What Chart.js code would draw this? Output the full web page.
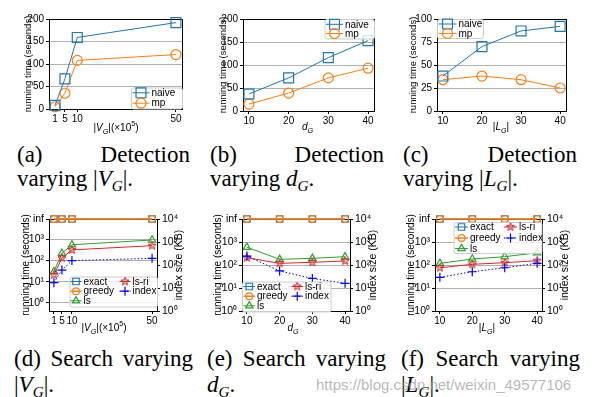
<!DOCTYPE html>
<html>
<head>
<meta charset="utf-8">
<script src="https://cdn.jsdelivr.net/npm/chart.js@4.4.0/dist/chart.umd.min.js"></script>
<style>
  body { margin: 0; width: 593px; height: 397px; background: #fff; position: relative; overflow: hidden; }
  canvas.p { position: absolute; left: 0; top: 0; }
  .cap { position: absolute; font-family: "Liberation Serif", "DejaVu Serif", serif; font-size: 23px; line-height: 23px; color: #000; white-space: nowrap; }
  .cap.j { display: flex; justify-content: space-between; }
  .cap sub { font-size: 66%; vertical-align: -0.3em; line-height: 0; }
  .wm { position: absolute; left: 316px; top: 376px; font: 15px "Liberation Sans", Arial, sans-serif; color: rgba(160,160,160,0.75); white-space: nowrap; }
</style>
</head>
<body>
<div class="cap j" style="left:17px;top:143px;width:173px"><span>(a)</span><span>Detection</span></div>
<div class="cap" style="left:17px;top:167px">varying |<i>V</i><sub><i>G</i></sub>|.</div>
<div class="cap j" style="left:210px;top:143px;width:174px"><span>(b)</span><span>Detection</span></div>
<div class="cap" style="left:210px;top:167px">varying <i>d</i><sub><i>G</i></sub>.</div>
<div class="cap j" style="left:403px;top:143px;width:174px"><span>(c)</span><span>Detection</span></div>
<div class="cap" style="left:403px;top:167px">varying |<i>L</i><sub><i>G</i></sub>|.</div>
<div class="cap j" style="left:14px;top:347px;width:179px"><span>(d)</span><span>Search</span><span>varying</span></div>
<div class="cap" style="left:14px;top:373px">|<i>V</i><sub><i>G</i></sub>|.</div>
<div class="cap j" style="left:207px;top:347px;width:179px"><span>(e)</span><span>Search</span><span>varying</span></div>
<div class="cap" style="left:207px;top:373px"><i>d</i><sub><i>G</i></sub>.</div>
<div class="cap j" style="left:401px;top:347px;width:179px"><span>(f)</span><span>Search</span><span>varying</span></div>
<div class="cap" style="left:401px;top:373px">|<i>L</i><sub><i>G</i></sub>|.</div>
<div class="wm">https://blog.csdn.net/weixin_49577106</div>
<script>
// x values
const sizeX = [1, 5, 10, 50];        // |V_G| (x10^5)
const degX = [10, 20, 30, 40];       // d_G
const lenX = [10, 20, 30, 40];       // |L_G|

// detection running time (seconds)
const detSizeNaive = [8, 67, 159, 192];
const detSizeMp = [5, 35, 108, 121];
const detDegNaive = [37, 72, 116, 153];
const detDegMp = [15, 39, 72, 93];
const detLenNaive = [38, 70, 87, 92];
const detLenMp = [34, 38, 34, 25];

// search running time (seconds), Infinity = "inf"
const searchSizeExact = [Infinity, Infinity, Infinity, Infinity];
const searchSizeGreedy = [Infinity, Infinity, Infinity, Infinity];
const searchSizeLs = [30, 220, 550, 930];
const searchSizeLsri = [21, 130, 316, 500];
const searchSizeIndex = [17, 60, 155, 195];   // index size (KB)

const searchDegExact = [Infinity, Infinity, Infinity, Infinity];
const searchDegGreedy = [Infinity, Infinity, Infinity, Infinity];
const searchDegLs = [590, 177, 195, 230];
const searchDegLsri = [208, 118, 131, 149];
const searchDegIndex = [245, 55, 26, 16];

const searchLenExact = [Infinity, Infinity, Infinity, Infinity];
const searchLenGreedy = [Infinity, Infinity, Infinity, Infinity];
const searchLenLs = [118, 182, 230, 340];
const searchLenLsri = [76, 107, 126, 154];
const searchLenIndex = [29, 51, 76, 118];

// tick labels
const detTicks = [0, 50, 100, 150, 200];
const detLenTicks = [0, 25, 50, 75, 100];
const logTicks = [1, 10, 100, 1000];
const sizeTicks = [1, 5, 10, 50];

const W = 593, H = 397;
const FONT = '"Liberation Sans", Arial, sans-serif';
const BLUE = '#1f77b4', ORANGE = '#ff7f0e', GREEN = '#2ca02c', RED = '#d62728', PURE = '#0000ff';
const SUP = ['⁰', '¹', '²', '³', '⁴'];
const sup = v => '10' + SUP[Math.round(Math.log10(v))];

// hollow 5-point star for ls-ri
function starImage(size) {
  const c = document.createElement('canvas');
  c.width = size; c.height = size;
  const g = c.getContext('2d');
  const R = size / 2 - 0.7, r = R * 0.42, m = size / 2;
  g.beginPath();
  for (let i = 0; i < 10; i++) {
    const rad = i % 2 ? r : R;
    const a = -Math.PI / 2 + i * Math.PI / 5;
    g.lineTo(m + rad * Math.cos(a), m + rad * Math.sin(a));
  }
  g.closePath();
  g.fillStyle = 'rgba(214,39,40,0.25)';
  g.fill();
  g.strokeStyle = RED; g.lineWidth = 1;
  g.stroke();
  return c;
}
const STAR = starImage(10);

function xAxis(ticks, min, max) {
  return {
    type: 'linear', position: 'bottom', min, max,
    afterBuildTicks: s => { s.ticks = ticks.map(v => ({ value: v })); },
    afterFit: s => { s.height = 20; s.paddingLeft = 0; s.paddingRight = 0; },
    ticks: { font: { family: FONT, size: 10 }, color: '#000', padding: 1, maxRotation: 0, autoSkip: false },
    grid: { drawOnChartArea: false, tickColor: '#000', tickLength: 3 },
    border: { display: false }
  };
}

function yLinear(min, max, ticks) {
  return {
    type: 'linear', position: 'left', min, max,
    afterBuildTicks: s => { s.ticks = ticks.map(v => ({ value: v })); },
    afterFit: s => { s.width = 40; s.paddingTop = 0; s.paddingBottom = 0; },
    ticks: { font: { family: FONT, size: 10 }, color: '#000', padding: 2 },
    grid: { color: '#b0b0b0', tickColor: '#000', tickLength: 3 },
    border: { display: false }
  };
}

function yLog(min, max, ticks, pos, infTop) {
  const all = infTop ? ticks.concat([max]) : ticks;
  return {
    type: 'logarithmic', position: pos, min, max,
    afterBuildTicks: s => { s.ticks = all.map(v => ({ value: v })); },
    afterFit: s => { s.width = 40; s.paddingTop = 0; s.paddingBottom = 0; },
    ticks: {
      font: { family: FONT, size: 10.5 }, color: '#000', padding: 2,
      callback: v => (infTop && v === max) ? 'inf' : sup(v)
    },
    grid: pos === 'left'
      ? { color: '#b0b0b0', tickColor: '#000', tickLength: 3 }
      : { drawOnChartArea: false, tickColor: '#000', tickLength: 3 },
    border: { display: false }
  };
}

function series(label, xs, ys, st, infAt) {
  return {
    label,
    data: xs.map((x, i) => ({ x, y: ys[i] === Infinity ? infAt : ys[i] })),
    borderColor: st.color, borderWidth: st.lw || 1, borderDash: st.dash || [],
    pointStyle: st.marker, pointRadius: st.r, pointBorderColor: st.color,
    pointBackgroundColor: 'rgba(0,0,0,0)', pointBorderWidth: st.pw || 1.2,
    fill: false, tension: 0, clip: false, yAxisID: st.axis || 'y', order: st.order || 0
  };
}

function drawRich(ctx, segs, cx, cy, size) {
  const parts = segs.map(([t, st]) => {
    const small = st === 'sub' || st === 'sup' || st === 'isub';
    const it = st === 'i' || st === 'isub';
    const f = (it ? 'italic ' : '') + (small ? size * 0.72 : size) + 'px ' + FONT;
    ctx.font = f;
    const dy = (st === 'sub' || st === 'isub') ? size * 0.3 : st === 'sup' ? -size * 0.42 : 0;
    return { t, f, w: ctx.measureText(t).width, dy };
  });
  const total = parts.reduce((s, p) => s + p.w, 0);
  let x = cx - total / 2;
  ctx.textAlign = 'left'; ctx.textBaseline = 'alphabetic'; ctx.fillStyle = '#000';
  const base = cy + size * 0.36;
  parts.forEach(p => { ctx.font = p.f; ctx.fillText(p.t, x, base + p.dy); x += p.w; });
}

function decoPlugin(cfg) {
  return {
    id: 'deco',
    beforeDatasetsDraw(chart) {
      const { ctx, chartArea: a } = chart;
      ctx.save();
      ctx.strokeStyle = '#000'; ctx.lineWidth = 1;
      ctx.strokeRect(Math.round(a.left) + 0.5, Math.round(a.top) + 0.5,
        Math.round(a.right) - Math.round(a.left), Math.round(a.bottom) - Math.round(a.top));
      ctx.restore();
    },
    afterDraw(chart) {
      const { ctx, chartArea: a } = chart;
      const midY = (a.top + a.bottom) / 2;
      ctx.save();
      drawRich(ctx, cfg.xTitle, cfg.xTitlePos[0], cfg.xTitlePos[1], 10);
      ctx.save(); ctx.translate(cfg.yTitleX, midY); ctx.rotate(-Math.PI / 2);
      drawRich(ctx, [['running time (seconds)', '']], 0, 0, cfg.yTitleSize);
      ctx.restore();
      if (cfg.y2TitleX) {
        ctx.save(); ctx.translate(cfg.y2TitleX, midY); ctx.rotate(-Math.PI / 2);
        drawRich(ctx, [['index size (KB)', '']], 0, 0, 10.5);
        ctx.restore();
      }
      // legend
      const L = cfg.legend, dss = chart.data.datasets;
      ctx.beginPath();
      ctx.roundRect(L.box[0] + 0.5, L.box[1] + 0.5, L.box[2], L.box[3], 2);
      ctx.fillStyle = 'rgba(255,255,255,0.8)'; ctx.fill();
      ctx.strokeStyle = '#cccccc'; ctx.lineWidth = 1; ctx.stroke();
      const nRows = L.rows.length;
      L.items.forEach((di, k) => {
        const ds = dss[di];
        const x0 = L.cols[Math.floor(k / nRows)], y = L.rows[k % nRows];
        ctx.save();
        ctx.strokeStyle = ds.borderColor; ctx.lineWidth = ds.borderWidth;
        ctx.setLineDash(ds.borderDash || []);
        ctx.beginPath(); ctx.moveTo(x0, y); ctx.lineTo(x0 + L.handle, y); ctx.stroke();
        ctx.setLineDash([]);
        ctx.strokeStyle = ds.pointBorderColor; ctx.fillStyle = ds.pointBackgroundColor;
        ctx.lineWidth = ds.pointBorderWidth;
        Chart.helpers.drawPoint(ctx, { pointStyle: ds.pointStyle, radius: ds.pointRadius, rotation: 0, borderWidth: ds.pointBorderWidth }, x0 + L.handle / 2, y);
        ctx.restore();
        ctx.font = '10px ' + FONT; ctx.fillStyle = '#000';
        ctx.textAlign = 'left'; ctx.textBaseline = 'middle';
        ctx.fillText(ds.label, x0 + L.handle + 2, y + 0.5);
      });
      ctx.restore();
    }
  };
}

function panel(area, scales, datasets, cfg) {
  const cv = document.createElement('canvas');
  cv.width = W; cv.height = H; cv.className = 'p';
  document.body.appendChild(cv);
  new Chart(cv.getContext('2d'), {
    type: 'line',
    data: { datasets },
    options: {
      responsive: false, animation: false, events: [],
      layout: { padding: { left: area[0] - 40, top: area[1], right: W - area[2] - (scales.y2 ? 40 : 0), bottom: H - area[3] - 20 } },
      scales,
      plugins: { legend: { display: false }, tooltip: { enabled: false } }
    },
    plugins: [decoPlugin(cfg)]
  });
}

const VG = [['|', ''], ['V', 'i'], ['G', 'isub'], ['|(×10', ''], ['5', 'sup'], [')', '']];
const DG = [['d', 'i'], ['G', 'isub']];
const LG = [['|', ''], ['L', 'i'], ['G', 'isub'], ['|', '']];

const naiveSt = { color: BLUE, marker: 'rect', r: 7 };
const mpSt = { color: ORANGE, marker: 'circle', r: 5 };

// (a)
panel([49, 19, 182, 109],
  { x: xAxis(sizeTicks, -1.45, 52.45), y: yLinear(0, 200, detTicks) },
  [series('naive', sizeX, detSizeNaive, naiveSt), series('mp', sizeX, detSizeMp, mpSt)],
  { xTitle: VG, xTitlePos: [116, 127], yTitleX: 28, yTitleSize: 9.5,
    legend: { box: [131, 87.5, 51, 21], rows: [92.8, 103.2], cols: [132.5], handle: 17, items: [0, 1] } });

// (b)
panel([243, 19, 374, 111],
  { x: xAxis(degX, 8.5, 41.5), y: yLinear(0, 200, detTicks) },
  [series('naive', degX, detDegNaive, naiveSt), series('mp', degX, detDegMp, mpSt)],
  { xTitle: DG, xTitlePos: [307.5, 126.5], yTitleX: 223, yTitleSize: 9.5,
    legend: { box: [324.5, 19, 49.5, 19.5], rows: [24.3, 33.5], cols: [326], handle: 17, items: [0, 1] } });

// (c)
panel([437, 19, 566, 111],
  { x: xAxis(lenX, 8.5, 41.5), y: yLinear(0, 100, detLenTicks) },
  [series('naive', lenX, detLenNaive, naiveSt), series('mp', lenX, detLenMp, mpSt)],
  { xTitle: LG, xTitlePos: [501, 126.5], yTitleX: 413, yTitleSize: 9.5,
    legend: { box: [437, 19, 46, 19], rows: [24, 33.4], cols: [438.5], handle: 18, items: [0, 1] } });

function searchSets(xs, exact, greedy, ls, lsri, index, infAt) {
  return [
    series('exact', xs, exact, { color: BLUE, marker: 'rect', r: 4.6, order: 5 }, infAt),
    series('greedy', xs, greedy, { color: ORANGE, marker: 'circle', r: 3.4, lw: 1.5, order: 4 }, infAt),
    series('ls', xs, ls, { color: GREEN, marker: 'triangle', r: 4.2, order: 3 }, infAt),
    series('ls-ri', xs, lsri, { color: RED, marker: STAR, r: 5, order: 2 }, infAt),
    series('index', xs, index, { color: PURE, marker: 'cross', r: 4.5, dash: [1.5, 2], axis: 'y2', order: 1 }, infAt)
  ];
}

// (d)
panel([49, 219, 157, 311],
  { x: xAxis(sizeTicks, -1.45, 52.45), y: yLog(0.41, 9100, logTicks, 'left', true), y2: yLog(1, 10000, logTicks.concat([10000]), 'right', false) },
  searchSets(sizeX, searchSizeExact, searchSizeGreedy, searchSizeLs, searchSizeLsri, searchSizeIndex, 9100),
  { xTitle: VG, xTitlePos: [104, 327], yTitleX: 25, yTitleSize: 10, y2TitleX: 178,
    legend: { box: [69.5, 276.5, 87.5, 30], rows: [281.5, 291.2, 300.8], cols: [70.5, 119.5], handle: 11, items: [0, 1, 2, 3, 4] } });

// (e)
panel([242, 219, 350, 311],
  { x: xAxis(degX, 8.5, 41.5), y: yLog(1, 10000, logTicks, 'left', true), y2: yLog(1, 10000, logTicks.concat([10000]), 'right', false) },
  searchSets(degX, searchDegExact, searchDegGreedy, searchDegLs, searchDegLsri, searchDegIndex, 10000),
  { xTitle: DG, xTitlePos: [293, 327.5], yTitleX: 217, yTitleSize: 10, y2TitleX: 372,
    legend: { box: [242, 281.5, 88.5, 30], rows: [286.5, 296.2, 305.8], cols: [243.5, 291.5], handle: 11.5, items: [0, 1, 2, 3, 4] } });

// (f)
panel([435, 219, 542, 311],
  { x: xAxis(lenX, 8.5, 41.5), y: yLog(1, 10000, logTicks, 'left', true), y2: yLog(1, 10000, logTicks.concat([10000]), 'right', false) },
  searchSets(lenX, searchLenExact, searchLenGreedy, searchLenLs, searchLenLsri, searchLenIndex, 10000),
  { xTitle: LG, xTitlePos: [487, 327.5], yTitleX: 410, yTitleSize: 10, y2TitleX: 564,
    legend: { box: [453.5, 222, 88, 31], rows: [227, 238, 248.5], cols: [455, 504], handle: 13, items: [0, 1, 2, 3, 4] } });
</script>
</body>
</html>
